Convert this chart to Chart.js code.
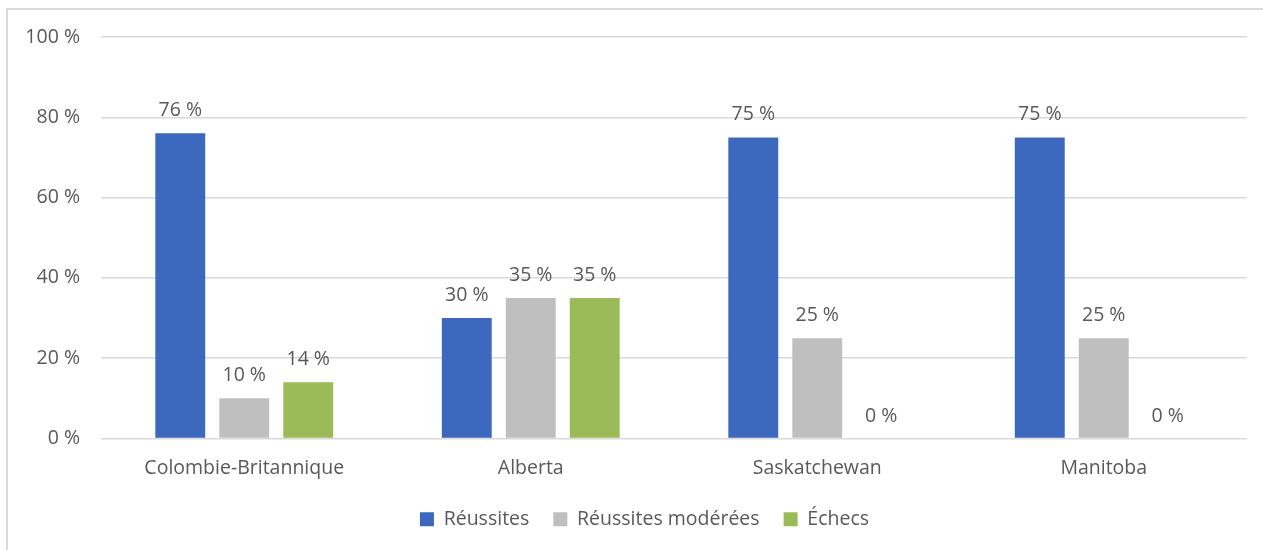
<!DOCTYPE html>
<html><head><meta charset="utf-8">
<script src="https://cdn.jsdelivr.net/npm/chart.js@4/dist/chart.umd.min.js"></script>
<style>
html,body{margin:0;padding:0;background:#fff;}
#wrap{position:absolute;left:0;top:0;width:1263px;height:550px;}
#frame{position:absolute;left:6px;top:8px;width:1300px;height:600px;border:2px solid #d9d9d9;box-sizing:border-box;pointer-events:none;}
</style></head>
<body>
<div id="wrap"><canvas id="c" width="1263" height="550"></canvas></div>
<div id="frame"></div>
<script>
const categories = ["Colombie-Britannique", "Alberta", "Saskatchewan", "Manitoba"];
const seriesNames = ["Réussites", "Réussites modérées", "Échecs"];
const reussites = [76, 30, 75, 75];
const moderees = [10, 35, 25, 25];
const echecs = [14, 35, 0, 0];
const yTicks = [0, 20, 40, 60, 80, 100];
const colors = ["#3c68be", "#bfbfbf", "#9bbb59"];
const FONT = "'Open Sans', Lato, sans-serif";
const TEXT = "#595959";
const FS = 19.5;

const valueLabels = {
  id: 'valueLabels',
  afterDatasetsDraw(chart) {
    const ctx = chart.ctx;
    ctx.save();
    ctx.font = FS + "px " + FONT;
    ctx.fillStyle = TEXT;
    ctx.textAlign = 'center';
    ctx.textBaseline = 'alphabetic';
    chart.data.datasets.forEach((ds, i) => {
      const meta = chart.getDatasetMeta(i);
      meta.data.forEach((bar, j) => {
        ctx.fillText(ds.data[j] + " %", bar.x, bar.y - 17);
      });
    });
    ctx.restore();
  }
};

const shiftLegend = {
  id: 'shiftLegend',
  afterLayout(chart) {
    if (chart.legend) { chart.legend.left += 42; }
  }
};

new Chart(document.getElementById('c'), {
  type: 'bar',
  data: {
    labels: categories,
    datasets: [
      { label: seriesNames[0], data: reussites, backgroundColor: colors[0] },
      { label: seriesNames[1], data: moderees, backgroundColor: colors[1] },
      { label: seriesNames[2], data: echecs, backgroundColor: colors[2] }
    ]
  },
  options: {
    responsive: false,
    animation: false,
    layout: { padding: { top: 37, right: 16, bottom: 11, left: 0 } },
    datasets: { bar: { categoryPercentage: 0.67, barPercentage: 0.78 } },
    plugins: {
      tooltip: { enabled: false },
      legend: {
        position: 'bottom',
        labels: { color: TEXT, font: { family: FONT, size: FS }, boxWidth: 14, boxHeight: 14, padding: 24 }
      }
    },
    scales: {
      x: {
        grid: { display: false },
        border: { display: false },
        ticks: { color: TEXT, font: { family: FONT, size: FS }, padding: 10 },
        afterFit(s) { s.height = 47; }
      },
      y: {
        min: 0, max: 100,
        afterBuildTicks(s) { s.ticks = yTicks.map(v => ({ value: v })); },
        afterFit(s) { s.width = 101; },
        grid: { color: '#d9d9d9', lineWidth: 1.5, drawTicks: false },
        border: { display: false },
        ticks: { color: TEXT, font: { family: FONT, size: FS }, padding: 21, callback: v => v + " %" }
      }
    }
  },
  plugins: [valueLabels, shiftLegend]
});
</script>
</body></html>
